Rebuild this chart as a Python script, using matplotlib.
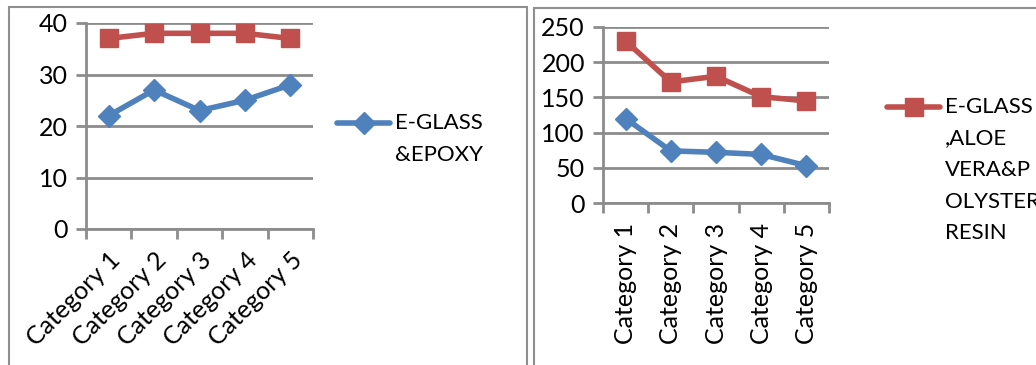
import matplotlib.pyplot as plt
from matplotlib.lines import Line2D
from matplotlib.patches import Rectangle

categories = ['Category 1', 'Category 2', 'Category 3', 'Category 4', 'Category 5']

# left chart
left_blue = [22, 27, 23, 25, 28]
left_red = [37, 38, 38, 38, 37]
left_label = 'E-GLASS\n&EPOXY'

# right chart
right_blue = [120, 74, 72, 69, 53]
right_red = [230, 172, 180, 151, 145]
right_label = 'E-GLASS\n,ALOE\nVERA&P\nOLYSTER\nRESIN'

BLUE = '#4f81bd'
RED = '#c0504d'
GRID = '#8c8c8c'

# Lato is close to Calibri (Carlito is built from it)
plt.rcParams['font.family'] = ['Lato', 'DejaVu Sans']

W, H = 1036, 365
fig = plt.figure(figsize=(W / 100, H / 100), dpi=100)


def px_axes(x0, y0, x1, y1):
    # pixel box (top-left origin) -> figure axes
    return fig.add_axes([x0 / W, 1 - y1 / H, (x1 - x0) / W, (y1 - y0) / H])


def style_axes(ax, ymax, step, rot):
    xs = [i + 0.5 for i in range(len(categories))]
    ax.set_xlim(0, len(categories))
    ax.set_ylim(0, ymax)
    ax.set_yticks(range(0, ymax + 1, step))
    ax.set_xticks(xs)
    ax.set_xticks(range(len(categories) + 1), minor=True)
    if rot == 45:
        ax.set_xticklabels(categories, rotation=45, ha='right', rotation_mode='anchor')
    else:
        ax.set_xticklabels(categories, rotation=90, ha='center', va='top')
    ax.tick_params(axis='x', which='major', length=0, pad=14, labelsize=18)
    ax.tick_params(axis='x', which='minor', length=7, width=2, color=GRID)
    ax.tick_params(axis='y', length=7, width=2, color=GRID, pad=6, labelsize=18)
    ax.grid(axis='y', color=GRID, linewidth=2)
    ax.set_axisbelow(True)
    for s in ['top', 'right']:
        ax.spines[s].set_visible(False)
    for s in ['left', 'bottom']:
        ax.spines[s].set_color(GRID)
        ax.spines[s].set_linewidth(2)
    return xs


def legend_entry(x0, x1, y, color, marker, ms, text):
    yf = 1 - y / H
    fig.add_artist(Line2D([x0 / W, x1 / W], [yf, yf], color=color, lw=4,
                          solid_capstyle='round'))
    fig.add_artist(Line2D([(x0 + x1) / 2 / W], [yf], color=color, marker=marker,
                          ms=ms, lw=0))
    fig.text((x1 + 5) / W, yf + 10 / H, text, fontsize=16, va='top', ha='left',
             linespacing=1.72)


# frames around each chart
fig.add_artist(Rectangle((9 / W, -0.1), (527 - 9) / W, 1.1 - 7 / H, fill=False,
                         edgecolor='#8f8f8f', lw=1.5, transform=fig.transFigure))
fig.add_artist(Rectangle((534 / W, -0.1), 0.6, 1.1 - 8 / H, fill=False,
                         edgecolor='#8f8f8f', lw=1.5, transform=fig.transFigure))

ax1 = px_axes(86, 23, 313, 229)
xs = style_axes(ax1, 40, 10, 45)
ax1.plot(xs, left_blue, color=BLUE, lw=4, marker='D', ms=11, clip_on=False)
ax1.plot(xs, left_red, color=RED, lw=4, marker='s', ms=13, clip_on=False)
legend_entry(337, 390, 123, BLUE, 'D', 11, left_label)

ax2 = px_axes(603, 27, 829, 203)
xs = style_axes(ax2, 250, 50, 90)
ax2.plot(xs, right_blue, color=BLUE, lw=4, marker='D', ms=11, clip_on=False)
ax2.plot(xs, right_red, color=RED, lw=4, marker='s', ms=13, clip_on=False)
legend_entry(887, 940, 107, RED, 's', 13, right_label)

fig.savefig('out.png', dpi=100)
